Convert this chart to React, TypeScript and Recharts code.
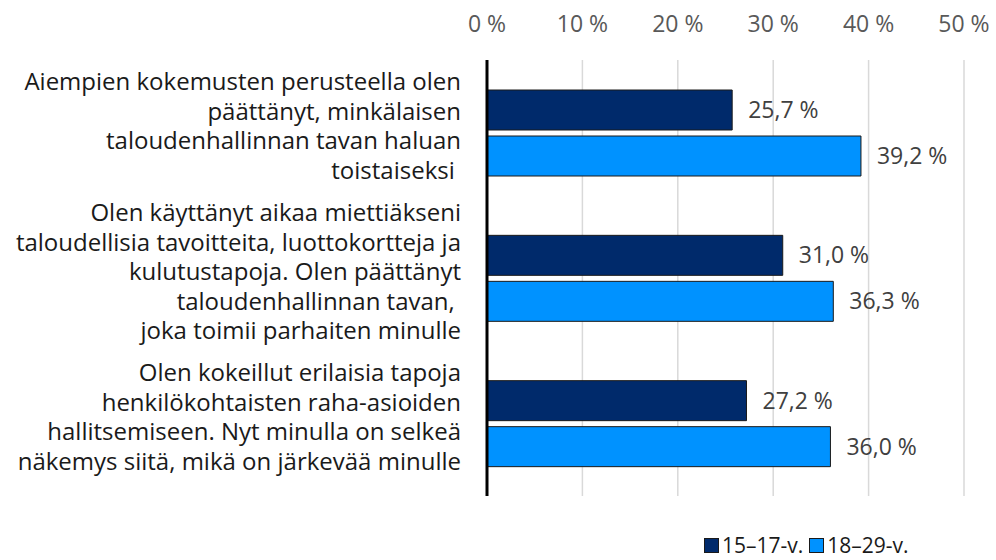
import { BarChart, Bar, XAxis, YAxis, CartesianGrid, LabelList, Legend } from 'recharts'

const categories = [
  'Aiempien kokemusten perusteella olen\npäättänyt, minkälaisen\ntaloudenhallinnan tavan haluan\ntoistaiseksi\u00a0',
  'Olen käyttänyt aikaa miettiäkseni\ntaloudellisia tavoitteita, luottokortteja ja\nkulutustapoja. Olen päättänyt\ntaloudenhallinnan tavan,\u00a0\njoka toimii parhaiten minulle',
  'Olen kokeillut erilaisia tapoja\nhenkilökohtaisten raha-asioiden\nhallitsemiseen. Nyt minulla on selkeä\nnäkemys siitä, mikä on järkevää minulle',
]
const age15to17 = [25.7, 31.0, 27.2]
const age18to29 = [39.2, 36.3, 36.0]
const seriesNames = ['15–17-v.', '18–29-v.']
const xTicks = [0, 10, 20, 30, 40, 50]

const DARK = '#002a6b'
const LIGHT = '#0092ff'
const FONT = '"Open Sans", sans-serif'

const data = categories.map((c, i) => ({
  name: c,
  a: age15to17[i],
  b: age18to29[i],
}))

const fmt = (v: number) => `${v.toFixed(1).replace('.', ',')} %`

// multi-line, right aligned category label
function CategoryTick(props: any) {
  const { x, y, payload } = props
  const lines: string[] = String(payload.value).split('\n')
  const lh = 29.5
  const start = y - 8 - ((lines.length - 1) * lh) / 2
  return (
    <text x={x} y={start} textAnchor="end" fill="#1a1a1a" fontSize={24} dominantBaseline="central">
      {lines.map((l, i) => (
        <tspan key={i} x={x} y={start + i * lh}>
          {l}
        </tspan>
      ))}
    </text>
  )
}

function LegendBox() {
  const colors = [DARK, LIGHT]
  return (
    <div
      style={{
        display: 'flex',
        alignItems: 'center',
        height: 24,
        lineHeight: '24px',
        fontSize: 21,
        color: '#1a1a1a',
        whiteSpace: 'nowrap',
      }}
    >
      {seriesNames.map((n, i) => (
        <div key={n} style={{ display: 'flex', alignItems: 'center', marginRight: 6 }}>
          <span
            style={{
              display: 'inline-block',
              width: 13,
              height: 13,
              background: colors[i],
              border: '1px solid #1a1a1a',
              marginRight: 3,
            }}
          />
          <span>{n}</span>
        </div>
      ))}
    </div>
  )
}

export default function App() {
  return (
    <div style={{ position: 'absolute', left: 0, top: 0, fontFamily: FONT, background: '#fff' }}>
      <BarChart
        width={996}
        height={560}
        data={data}
        layout="vertical"
        margin={{ top: 0, right: 32, bottom: 40, left: 0 }}
        barSize={40}
        barGap={6}
      >
        <CartesianGrid horizontal={false} stroke="#d9d9d9" strokeWidth={1.5} />
        <XAxis
          type="number"
          orientation="top"
          domain={[0, 50]}
          ticks={xTicks}
          height={60}
          axisLine={false}
          tickLine={false}
          tickMargin={22}
          tick={{ fill: '#595959', fontSize: 23 }}
          tickFormatter={(v: number) => `${v} %`}
        />
        <YAxis
          type="category"
          dataKey="name"
          width={487}
          axisLine={{ stroke: '#000', strokeWidth: 3 }}
          tickLine={false}
          tickMargin={20}
          tick={<CategoryTick />}
          interval={0}
        />
        <Legend
          verticalAlign="bottom"
          content={() => <LegendBox />}
          wrapperStyle={{ left: 704, bottom: 3, width: 'auto' }}
        />
        <Bar dataKey="a" name={seriesNames[0]} fill={DARK} stroke="#1a1a1a" strokeWidth={1} isAnimationActive={false}>
          <LabelList dataKey="a" position="right" offset={16} fill="#404040" fontSize={23} formatter={fmt} />
        </Bar>
        <Bar dataKey="b" name={seriesNames[1]} fill={LIGHT} stroke="#1a1a1a" strokeWidth={1} isAnimationActive={false}>
          <LabelList dataKey="b" position="right" offset={16} fill="#404040" fontSize={23} formatter={fmt} />
        </Bar>
      </BarChart>
    </div>
  )
}
